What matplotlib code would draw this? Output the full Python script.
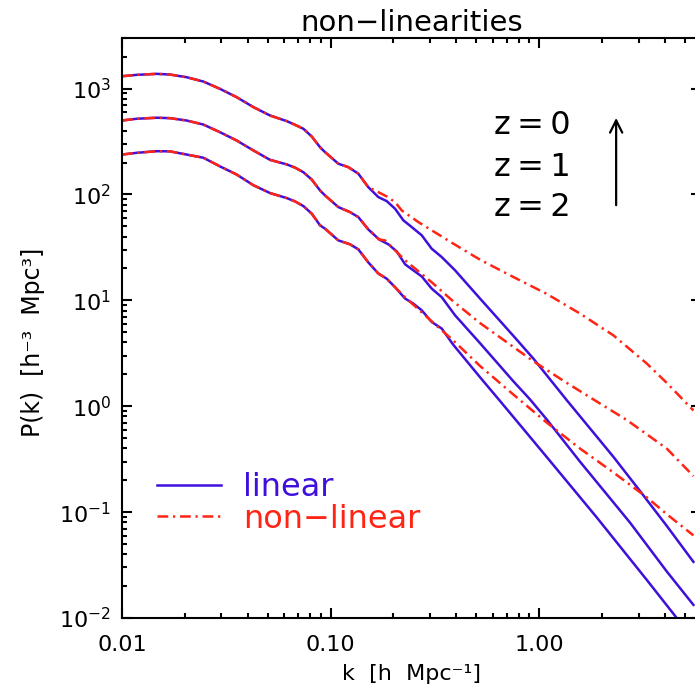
import numpy as np
import matplotlib
matplotlib.use('Agg')
import matplotlib.pyplot as plt
from matplotlib.ticker import FixedLocator, FixedFormatter, LogLocator, NullFormatter

# linear P(k), z = 0, 1, 2
k_lin0 = [0.01, 0.01176, 0.0147, 0.01699, 0.0204, 0.02455, 0.0295, 0.03548, 0.0427, 0.0513,
          0.0617, 0.0676, 0.0741, 0.0813, 0.0891, 0.0941, 0.109, 0.1217, 0.1359, 0.1518,
          0.1696, 0.186, 0.2039, 0.2235, 0.2451, 0.2738, 0.3057, 0.3415, 0.3956, 0.521,
          0.753, 0.939, 1.358, 2.272, 3.051, 4.098, 5.5]
P_lin0 = [1306, 1346, 1376, 1355, 1279, 1164, 993, 828, 667, 556,
          492, 454, 417, 352, 279, 251, 195, 181, 157, 117,
          94.3, 86.5, 73.3, 56.9, 49.2, 41.1, 30.7, 25.6, 19.2, 10.4,
          4.62, 2.82, 1.14, 0.333, 0.158, 0.0741, 0.0339]

k_lin1 = [0.01, 0.01176, 0.0147, 0.01699, 0.0204, 0.02455, 0.0295, 0.03548, 0.0427, 0.0513,
          0.0617, 0.0676, 0.0741, 0.0813, 0.0891, 0.0941, 0.109, 0.124, 0.1359, 0.1518,
          0.1709, 0.1893, 0.2077, 0.2277, 0.2495, 0.2738, 0.3057, 0.3415, 0.3956, 0.521,
          0.753, 0.905, 1.089, 1.573, 2.733, 4.098, 5.5]
P_lin1 = [499, 518, 530, 525, 499, 457, 387, 323, 260, 212,
          192, 179, 162, 138, 109, 97.9, 75.9, 68.1, 61.1, 46.7,
          37.6, 33.8, 29.0, 21.9, 19.2, 16.8, 12.9, 10.7, 7.22, 3.94,
          1.72, 1.16, 0.750, 0.299, 0.0794, 0.0275, 0.0133]

k_lin2 = [0.01, 0.01176, 0.0147, 0.01699, 0.0204, 0.02455, 0.0295, 0.03548, 0.0427, 0.0513,
          0.0617, 0.0676, 0.0741, 0.0813, 0.0891, 0.0941, 0.109, 0.124, 0.1359, 0.1518,
          0.1696, 0.186, 0.2039, 0.2277, 0.2495, 0.2738, 0.3057, 0.3415, 0.388, 0.521,
          0.650, 0.782, 1.089, 1.891, 3.286, 4.66]
P_lin2 = [238, 247, 256, 255, 238, 222, 184, 154, 122, 103,
          92.3, 85.9, 77.6, 65.8, 51.0, 47.5, 36.8, 33.8, 30.3, 22.8,
          17.9, 16.0, 13.3, 10.4, 9.31, 8.05, 6.24, 5.41, 3.80, 1.88,
          1.12, 0.724, 0.331, 0.0891, 0.0229, 0.00955]

# non-linear P(k), z = 0, 1, 2
k_nl0 = [0.01, 0.01176, 0.0147, 0.01699, 0.0204, 0.02455, 0.0295, 0.03548, 0.0427, 0.0513,
         0.0617, 0.0676, 0.0741, 0.0813, 0.0891, 0.0941, 0.109, 0.1217, 0.1359, 0.1518,
         0.1696, 0.186, 0.2039, 0.2196, 0.2637, 0.388, 0.521, 0.753, 1.089, 1.573,
         2.272, 3.286, 4.098, 5.5]
P_nl0 = [1306, 1346, 1376, 1355, 1279, 1164, 993, 828, 667, 556,
         492, 454, 417, 352, 279, 251, 195, 181, 157, 117,
         105, 95.7, 84.6, 70.6, 54.8, 34.3, 24.2, 16.6, 11.5, 7.49,
         4.67, 2.53, 1.66, 0.912]

k_nl1 = [0.01, 0.01176, 0.0147, 0.01699, 0.0204, 0.02455, 0.0295, 0.03548, 0.0427, 0.0513,
         0.0617, 0.0676, 0.0741, 0.0813, 0.0891, 0.0941, 0.109, 0.124, 0.1359, 0.1518,
         0.1709, 0.1826, 0.2277, 0.3057, 0.388, 0.521, 0.753, 0.939, 1.308, 1.821,
         2.634, 4.098, 5.5]
P_nl1 = [499, 518, 530, 525, 499, 457, 387, 323, 260, 212,
         192, 179, 162, 138, 109, 97.9, 75.9, 68.1, 61.1, 46.7,
         37.6, 36.8, 23.9, 14.8, 9.77, 6.10, 3.63, 2.66, 1.74, 1.16,
         0.741, 0.398, 0.219]

k_nl2 = [0.01, 0.01176, 0.0147, 0.01699, 0.0204, 0.02455, 0.0295, 0.03548, 0.0427, 0.0513,
         0.0617, 0.0676, 0.0741, 0.0813, 0.0891, 0.0941, 0.109, 0.124, 0.1359, 0.1518,
         0.1696, 0.186, 0.2039, 0.2277, 0.2944, 0.388, 0.521, 0.753, 1.089, 1.573,
         2.272, 3.286, 4.098, 5.5]
P_nl2 = [238, 247, 256, 255, 238, 222, 184, 154, 122, 103,
         92.3, 85.9, 77.6, 65.8, 51.0, 47.5, 36.8, 33.8, 30.3, 22.8,
         17.9, 16.0, 13.3, 10.7, 6.76, 4.17, 2.40, 1.29, 0.700, 0.398,
         0.237, 0.138, 0.0955, 0.0603]

z_labels = ['z=0', 'z=1', 'z=2']
x_ticks = [0.01, 0.1, 1.0]
x_ticklabels = ['0.01', '0.10', '1.00']

blue = '#3f10dc'
red = '#ff2414'
nl_dash = (0, (4.3, 1.9, 0.9, 1.9))

plt.rcParams['font.family'] = ['DejaVu Sans']
plt.rcParams['mathtext.fontset'] = 'dejavusans'

fig = plt.figure(figsize=(6.95, 7.0), dpi=100)
W, H = 695.0, 700.0
ax_l, ax_r, ax_t, ax_b = 122.0, 701.3, 38.0, 618.0
ax = fig.add_axes([ax_l / W, 1 - ax_b / H, (ax_r - ax_l) / W, (ax_b - ax_t) / H])

for k, P in [(k_lin0, P_lin0), (k_lin1, P_lin1), (k_lin2, P_lin2)]:
    ax.plot(k, P, color=blue, lw=1.8, solid_joinstyle='round')
for k, P in [(k_nl0, P_nl0), (k_nl1, P_nl1), (k_nl2, P_nl2)]:
    ax.plot(k, P, color=red, lw=1.8, linestyle=nl_dash)

ax.set_xscale('log')
ax.set_yscale('log')
ax.set_xlim(0.01, 6.0)
ax.set_ylim(0.01, 3000)

ax.xaxis.set_major_locator(FixedLocator(x_ticks))
ax.xaxis.set_major_formatter(FixedFormatter(x_ticklabels))
ax.xaxis.set_minor_locator(LogLocator(base=10, subs=np.arange(2, 10)))
ax.xaxis.set_minor_formatter(NullFormatter())
ax.yaxis.set_minor_locator(LogLocator(base=10, subs=np.arange(2, 10), numticks=20))
ax.yaxis.set_minor_formatter(NullFormatter())

ax.tick_params(which='both', direction='in', top=True, right=True, width=1.5, labelsize=16)
ax.tick_params(which='major', length=7.2)
ax.tick_params(which='minor', length=3.6)
ax.tick_params(axis='x', pad=12)
ax.tick_params(axis='y', pad=8)
for s in ax.spines.values():
    s.set_linewidth(1.5)

ax.set_title('non\u2212linearities', fontsize=21, pad=5)
ax.set_xlabel('k  [h  Mpc\u207b\u00b9]', fontsize=16)
ax.xaxis.set_label_coords(0.5, -0.08)
ax.set_ylabel('P(k)  [h\u207b\u00b3  Mpc\u00b3]', fontsize=17)
ax.yaxis.set_label_coords(-0.133, 0.476)

for lab, yy in zip(z_labels, [0.850, 0.776, 0.707]):
    ax.text(0.709, yy, lab.replace('=', ' = ').replace(' ', '\u2009'), transform=ax.transAxes,
            fontsize=23, ha='center', va='center')
ax.annotate('', xy=(0.853, 0.867), xytext=(0.853, 0.707), xycoords='axes fraction',
            arrowprops=dict(arrowstyle='->', lw=1.6, mutation_scale=22, color='black'))

h1, = ax.plot([], [], color=blue, lw=1.8)
h2, = ax.plot([], [], color=red, lw=1.8, linestyle=nl_dash)
leg = ax.legend([h1, h2], ['linear', 'non\u2212linear'], loc='center left',
                bbox_to_anchor=(157 / W, 1 - 503.5 / H), bbox_transform=fig.transFigure,
                frameon=False, fontsize=23, handlelength=2.0, handletextpad=0.7,
                labelspacing=0.0, borderpad=0, borderaxespad=0)
for t, c in zip(leg.get_texts(), [blue, red]):
    t.set_color(c)

fig.savefig('out.png', dpi=100)
